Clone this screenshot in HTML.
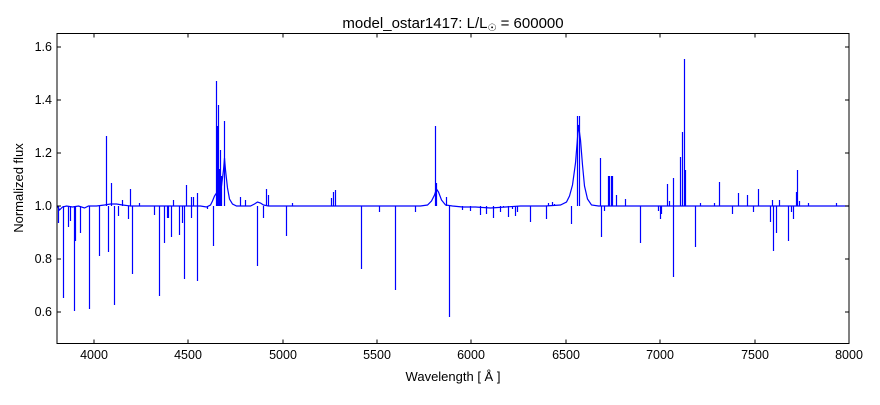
<!DOCTYPE html>
<html><head><meta charset="utf-8"><style>
body{margin:0;background:#fff;}
text{font-family:"Liberation Sans","DejaVu Sans",sans-serif;fill:#000;}
</style></head><body>
<svg width="880" height="400" xmlns="http://www.w3.org/2000/svg">
<rect width="880" height="400" fill="#fff"/>
<text x="453" y="28" font-size="15" text-anchor="middle">model_ostar1417: L/L<tspan font-size="10" dy="3">☉</tspan><tspan dy="-3"> = 600000</tspan></text>
<g stroke="#00f" stroke-width="1.2" fill="none" transform="translate(0.5,0)">
<path d="M57,206 L59,210 L62,207 L66,206 L72,207 L78,206 L84,208 L88,206 L96,206 L104,205 L110,204 L116,204 L122,205 L130,206 L145,206 L170,206 L190,206 L200,206 L206,207 L210,205 L212,201 L214,196 L216,193 L219,193 L221,186 L223,170 L224,158 L225,170 L227,188 L229,199 L232,204 L236,206 L250,206 L254,204 L257,202 L260,203 L263,205 L268,206 L330,206 L420,206 L427,205 L431,201 L434,195 L436,189 L438,192 L441,200 L445,205 L452,206 L462,207 L475,207 L490,208 L505,207 L520,206 L545,206 L560,205 L566,202 L569,196 L572,185 L575,163 L577,138 L578,125 L580,140 L582,165 L584,186 L587,199 L591,205 L598,206 L848,206"/>
<path d="M58,206V223 M63,206V298 M68,206V227 M70,206V221 M74,206V311 M75,206V241 M80,206V233 M89,206V309 M99,206V256 M106,206V136 M108,206V252 M111,206V183 M114,206V305 M118,206V216 M122,206V200 M128,206V219 M130,206V189 M132,206V274 M139,206V203 M154,206V215 M159,206V296 M164,206V243 M167,206V218 M168,206V218 M171,206V237 M173,206V200 M179,206V235 M182,206V223 M184,206V279 M186,206V185 M191,206V218 M191,206V197 M193,206V197 M197,206V281 M197,206V193 M207,206V209 M213,206V246 M216,206V81 M217,206V126 M218,206V105 M219,206V169 M220,206V150 M221,206V176 M224,206V121 M240,206V197 M245,206V200 M257,206V266 M263,206V218 M266,206V189 M268,206V195 M286,206V236 M292,206V203 M331,206V198 M333,206V192 M335,206V190 M361,206V269 M379,206V212 M395,206V290 M415,206V212 M435,206V126 M436,206V183 M449,206V317 M446,206V197 M462,206V210 M470,206V211 M480,206V215 M486,206V214 M493,206V218 M500,206V212 M503,206V207 M508,206V217 M512,206V209 M515,206V216 M517,206V212 M530,206V222 M546,206V219 M548,206V203 M552,206V202 M554,206V204 M571,206V224 M577,206V116 M579,206V116 M600,206V158 M601,206V237 M604,206V211 M608,206V176 M609,206V176 M611,206V176 M612,206V176 M616,206V195 M625,206V199 M640,206V243 M658,206V211 M660,206V219 M661,206V214 M667,206V184 M669,206V201 M673,206V178 M673,206V277 M680,206V157 M682,206V132 M684,206V59 M685,206V170 M695,206V247 M700,206V203 M714,206V203 M719,206V182 M732,206V214 M738,206V193 M747,206V195 M753,206V212 M758,206V189 M770,206V222 M772,206V200 M773,206V251 M776,206V233 M779,206V200 M788,206V241 M791,206V212 M793,206V219 M796,206V192 M797,206V170 M799,206V201 M808,206V203 M836,206V203"/>
</g>
<rect x="57" y="33.5" width="792" height="310" fill="none" stroke="#000" stroke-width="1"/>
<g stroke="#000" stroke-width="1">
<path d="M94,343.5v-4 M188,343.5v-4 M283,343.5v-4 M377,343.5v-4 M471,343.5v-4 M566,343.5v-4 M660,343.5v-4 M755,343.5v-4 M94,33.5v4 M188,33.5v4 M283,33.5v4 M377,33.5v4 M471,33.5v4 M566,33.5v4 M660,33.5v4 M755,33.5v4"/>
<path d="M57,47h4 M57,100h4 M57,153h4 M57,206h4 M57,259h4 M57,312h4 M849,47h-4 M849,100h-4 M849,153h-4 M849,206h-4 M849,259h-4 M849,312h-4"/>
</g>
<g font-size="12.5" text-anchor="middle">
<text x="94" y="359">4000</text><text x="188" y="359">4500</text><text x="283" y="359">5000</text><text x="377" y="359">5500</text><text x="471" y="359">6000</text><text x="566" y="359">6500</text><text x="660" y="359">7000</text><text x="755" y="359">7500</text><text x="849" y="359">8000</text>
</g>
<g font-size="12.5" text-anchor="end">
<text x="52" y="51">1.6</text><text x="52" y="104">1.4</text><text x="52" y="157">1.2</text><text x="52" y="210">1.0</text><text x="52" y="263">0.8</text><text x="52" y="316">0.6</text>
</g>
<text x="453" y="381" font-size="13" text-anchor="middle">Wavelength [ Å ]</text>
<text transform="translate(23,188) rotate(-90)" font-size="13" text-anchor="middle">Normalized flux</text>
</svg>
</body></html>
